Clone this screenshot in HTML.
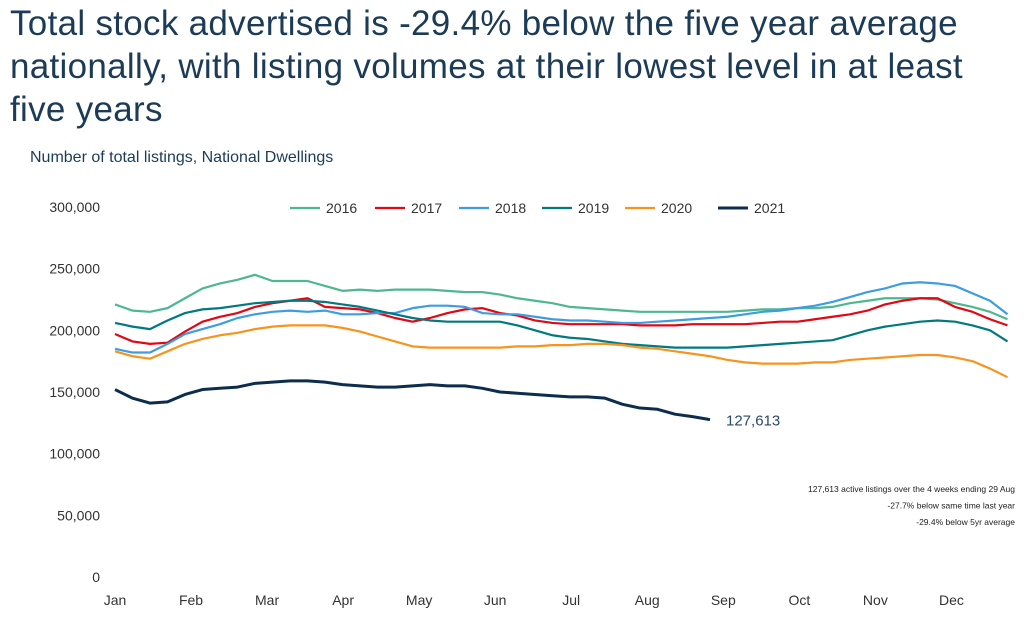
<!DOCTYPE html>
<html><head><meta charset="utf-8"><style>
body{margin:0;background:#fff;font-family:"Liberation Sans",sans-serif;}
#wrap{position:relative;width:1032px;height:621px;overflow:hidden;}
.title{position:absolute;left:10px;top:2px;font-size:35px;line-height:43px;color:#1c3b56;width:985px;letter-spacing:0.3px;}
.sub{position:absolute;left:30px;top:149px;font-size:16px;color:#1c3b56;}
</style></head><body>
<div id="wrap">
<div class="title">Total stock advertised is -29.4% below the five year average nationally, with listing volumes at their lowest level in at least five years</div>
<div class="sub">Number of total listings, National Dwellings</div>
<svg id="svg" width="1032" height="621" style="position:absolute;left:0;top:0"></svg>
</div>
<script>
const years=["2016","2017","2018","2019","2020","2021"];
const colors=["#4db88f","#e30613","#3d9de0","#007a80","#f7941d","#0c2d4e"];
const months=["Jan","Feb","Mar","Apr","May","Jun","Jul","Aug","Sep","Oct","Nov","Dec"];
const yTicks=[0,50000,100000,150000,200000,250000,300000];
const s2016=[221,216,215,218,226,234,238,241,245,240,240,240,236,232,233,232,233,233,233,232,231,231,229,226,224,222,219,218,217,216,215,215,215,215,215,215,216,217,217,218,218,219,222,224,226,226,226,225,222,219,215,209];
const s2017=[197,191,189,190,199,207,211,214,219,222,224,226,219,218,217,214,210,207,210,214,217,218,214,212,208,206,205,205,205,205,204,204,204,205,205,205,205,206,207,207,209,211,213,216,221,224,226,226,219,215,209,204];
const s2018=[185,182,182,189,197,201,205,210,213,215,216,215,216,213,213,214,214,218,220,220,219,214,213,213,211,209,208,208,207,206,206,207,208,209,210,211,213,215,216,218,220,223,227,231,234,238,239,238,236,230,224,213];
const s2019=[206,203,201,208,214,217,218,220,222,223,224,224,223,221,219,216,213,210,208,207,207,207,207,204,200,196,194,193,191,189,188,187,186,186,186,186,187,188,189,190,191,192,196,200,203,205,207,208,207,204,200,191];
const s2020=[183,179,177,183,189,193,196,198,201,203,204,204,204,202,199,195,191,187,186,186,186,186,186,187,187,188,188,189,189,188,186,185,183,181,179,176,174,173,173,173,174,174,176,177,178,179,180,180,178,175,169,162];
const s2021=[152,145,141,142,148,152,153,154,157,158,159,159,158,156,155,154,154,155,156,155,155,153,150,149,148,147,146,146,145,140,137,136,132,130,127.613];
const series=[s2016,s2017,s2018,s2019,s2020,s2021];
const NS="http://www.w3.org/2000/svg",svg=document.getElementById("svg");
const x=i=>115+i*17.5, y=v=>577-v/300000*370;
function mk(t,a,txt){const e=document.createElementNS(NS,t);for(const k in a)e.setAttribute(k,a[k]);if(txt!=null)e.textContent=txt;svg.appendChild(e);return e;}
yTicks.forEach(v=>{const t=mk("text",{x:100,y:y(v)+5,"text-anchor":"end","font-size":14,fill:"#333"},v.toLocaleString("en-US"));

});
months.forEach((m,i)=>{const t=mk("text",{x:115+i*4.345*17.5,y:605,"text-anchor":"middle","font-size":14,fill:"#333"},m);

});
series.forEach((s,k)=>{const p=mk("polyline",{points:s.map((v,i)=>x(i)+","+y(v*1000)).join(" "),fill:"none",stroke:colors[k],"stroke-width":k==5?3:2.2,"stroke-linejoin":"round"});

});
const lx=[290,375,459,542,625,718];
years.forEach((yr,k)=>{const l=mk("line",{x1:lx[k],x2:lx[k]+30,y1:208,y2:208,stroke:colors[k],"stroke-width":k==5?3:2.2});


const t=mk("text",{x:lx[k]+36,y:213,"font-size":14,fill:"#333"},yr);

});
const last=s2021[s2021.length-1];
const lab=mk("text",{x:x(s2021.length-1)+16,y:y(last*1000)+6,"font-size":15,fill:"#2b4a66"},Math.round(last*1000).toLocaleString("en-US"));


["127,613 active listings over the 4 weeks ending 29 Aug","-27.7% below same time last year","-29.4% below 5yr average"].forEach((s,i)=>{const t=mk("text",{x:1015,y:492+i*16.5,"text-anchor":"end","font-size":8.5,fill:"#222"},s);

});
</script>
</body></html>
